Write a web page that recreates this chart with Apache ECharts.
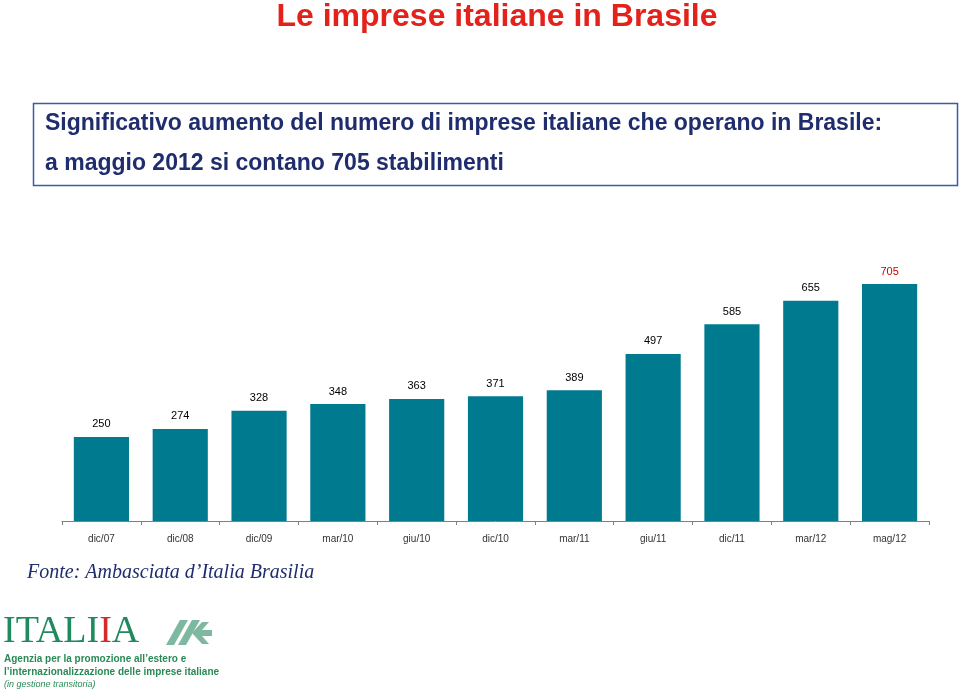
<!DOCTYPE html>
<html><head><meta charset="utf-8">
<script src="https://cdn.jsdelivr.net/npm/echarts@6/dist/echarts.min.js"></script>
<style>html,body{margin:0;padding:0;background:#fff}#c{width:960px;height:690px}</style>
</head><body><div id="c"></div>
<script>
const categories = ['dic/07','dic/08','dic/09','mar/10','giu/10','dic/10','mar/11','giu/11','dic/11','mar/12','mag/12'];
const values = [250,274,328,348,363,371,389,497,585,655,705];

const chart = echarts.init(document.getElementById('c'));
const yMax = 800;
chart.setOption({
  animation: false,
  backgroundColor: '#ffffff',
  grid: {left: 62, right: 31, top: 521 - yMax * 0.3362, bottom: 169, containLabel: false},
  xAxis: {
    type: 'category', data: categories,
    axisLine: {lineStyle: {color: '#808080', width: 1}},
    axisTick: {show: true, length: 4, lineStyle: {color: '#808080'}},
    axisLabel: {color: '#333', fontSize: 10, fontFamily: 'Liberation Sans, sans-serif', margin: 13}
  },
  yAxis: {type: 'value', min: 0, max: yMax, show: false, splitLine: {show: false}},
  series: [{
    type: 'bar', data: values.map((v, i) => ({
      value: v,
      label: i === values.length - 1 ? {color: '#cc0000'} : {}
    })),
    barWidth: '70%',
    itemStyle: {color: '#007A8F'},
    label: {show: true, position: 'top', distance: 7, color: '#000', fontSize: 11, fontFamily: 'Liberation Sans, sans-serif'}
  }],
  graphic: [
    {type: 'text', x: 497, y: 17, style: {text: 'Le imprese italiane in Brasile', fill: '#E3221B', align: 'center', verticalAlign: 'middle', font: 'bold 32px "Liberation Sans", sans-serif'}},
    {type: 'rect', shape: {x: 33.5, y: 103.5, width: 924, height: 82}, style: {fill: 'none', stroke: '#3A5BA8', lineWidth: 1.5}},
    {type: 'text', x: 45, y: 124, style: {text: 'Significativo aumento del numero di imprese italiane che operano in Brasile:', fill: '#1F2D6E', verticalAlign: 'middle', font: 'bold 23px "Liberation Sans", sans-serif'}},
    {type: 'text', x: 45, y: 164, style: {text: 'a maggio 2012 si contano 705 stabilimenti', fill: '#1F2D6E', verticalAlign: 'middle', font: 'bold 23px "Liberation Sans", sans-serif'}},
    {type: 'text', x: 27, y: 573, style: {text: 'Fonte: Ambasciata d\u2019Italia Brasilia', fill: '#1F2D6E', verticalAlign: 'middle', font: 'italic 20px "Liberation Serif", serif'}},
    {type: 'text', x: 3, y: 632, style: {verticalAlign: 'middle', rich: {g: {fill: '#1E8A5E', font: '38px "Liberation Serif", serif'}, r: {fill: '#D32A2A', font: '38px "Liberation Serif", serif'}}, text: '{g|ITALI}{r|I}{g|A}'}},
    {type: 'polygon', shape: {points: [[166,645],[180,620],[188,620],[174,645]]}, style: {fill: '#7FB8A0'}},
    {type: 'polygon', shape: {points: [[178,645],[192,620],[200,620],[186,645]]}, style: {fill: '#7FB8A0'}},
    {type: 'polygon', shape: {points: [[192,633],[202,622],[209,622],[202,630],[212,630],[212,636],[202,636],[209,644],[202,644]]}, style: {fill: '#7FB8A0'}},
    {type: 'text', x: 4, y: 659, style: {text: 'Agenzia per la promozione all\u2019estero e', fill: '#2A8A55', verticalAlign: 'middle', font: 'bold 10px "Liberation Sans", sans-serif'}},
    {type: 'text', x: 4, y: 672, style: {text: 'l\u2019internazionalizzazione delle imprese italiane', fill: '#2A8A55', verticalAlign: 'middle', font: 'bold 10px "Liberation Sans", sans-serif'}},
    {type: 'text', x: 4, y: 684, style: {text: '(in gestione transitoria)', fill: '#2A8A55', verticalAlign: 'middle', font: 'italic 9px "Liberation Sans", sans-serif'}}
  ]
});
</script></body></html>
